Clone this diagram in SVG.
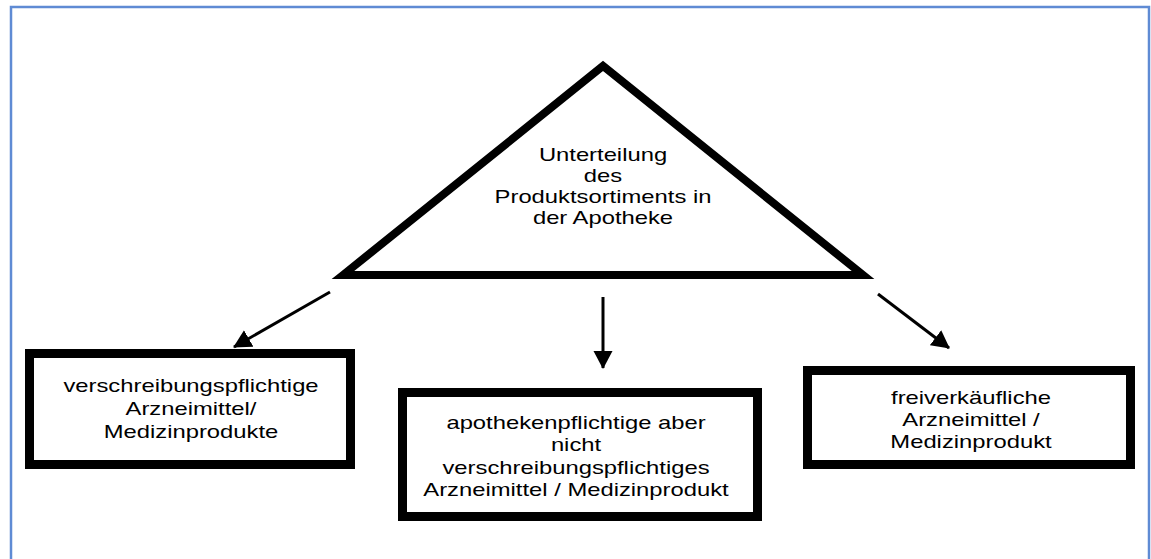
<svg xmlns="http://www.w3.org/2000/svg" width="1151" height="559" viewBox="0 0 1151 559">
<style>
.frame{fill:none;stroke:#5f8bd4;stroke-width:2.5}
.tri{fill:#fff;stroke:#000;stroke-width:8;stroke-linejoin:miter}
.box{fill:#fff;stroke:#000;stroke-width:9}
.lbl{font-family:"Liberation Sans",Arial,sans-serif;font-size:17.5px;fill:#000;text-anchor:middle}
.conn{stroke:#000;stroke-width:3;fill:none}
</style>
<defs>
<marker id="ah" markerUnits="userSpaceOnUse" markerWidth="20" markerHeight="20" refX="17" refY="9.5" orient="auto">
<path d="M0,0 L18,9.5 L0,19 Z" fill="#000"/>
</marker>
</defs>
<rect class="frame" x="11" y="7" width="1138" height="600"/>
<g id="root">
<polygon class="tri" points="343,275 603,66 863,275"/>
<g transform="translate(603,0) scale(1.36,1)">
<text class="lbl" x="0" y="161">Unterteilung</text>
<text class="lbl" x="0" y="182">des</text>
<text class="lbl" x="0" y="203">Produktsortiments in</text>
<text class="lbl" x="0" y="224">der Apotheke</text>
</g>
</g>
<g id="left">
<rect class="box" x="29.5" y="353.5" width="321" height="111"/>
<g transform="translate(191,0) scale(1.36,1)">
<text class="lbl" x="0" y="392">verschreibungspflichtige</text>
<text class="lbl" x="0" y="415">Arzneimittel/</text>
<text class="lbl" x="0" y="438">Medizinprodukte</text>
</g>
</g>
<g id="middle">
<rect class="box" x="402.5" y="392.5" width="355" height="124"/>
<g transform="translate(576,0) scale(1.36,1)">
<text class="lbl" x="0" y="429">apothekenpflichtige aber</text>
<text class="lbl" x="0" y="451">nicht</text>
<text class="lbl" x="0" y="474">verschreibungspflichtiges</text>
<text class="lbl" x="0" y="496">Arzneimittel / Medizinprodukt</text>
</g>
</g>
<g id="right">
<rect class="box" x="807.5" y="370.5" width="323" height="94"/>
<g transform="translate(971,0) scale(1.36,1)">
<text class="lbl" x="0" y="404">freiverkäufliche</text>
<text class="lbl" x="0" y="426">Arzneimittel /</text>
<text class="lbl" x="0" y="448">Medizinprodukt</text>
</g>
</g>
<g id="connectors">
<line class="conn" x1="330" y1="292" x2="234" y2="347" marker-end="url(#ah)"/>
<line class="conn" x1="603" y1="297" x2="603" y2="368" marker-end="url(#ah)"/>
<line class="conn" x1="878" y1="294" x2="949" y2="348" marker-end="url(#ah)"/>
</g>
</svg>
